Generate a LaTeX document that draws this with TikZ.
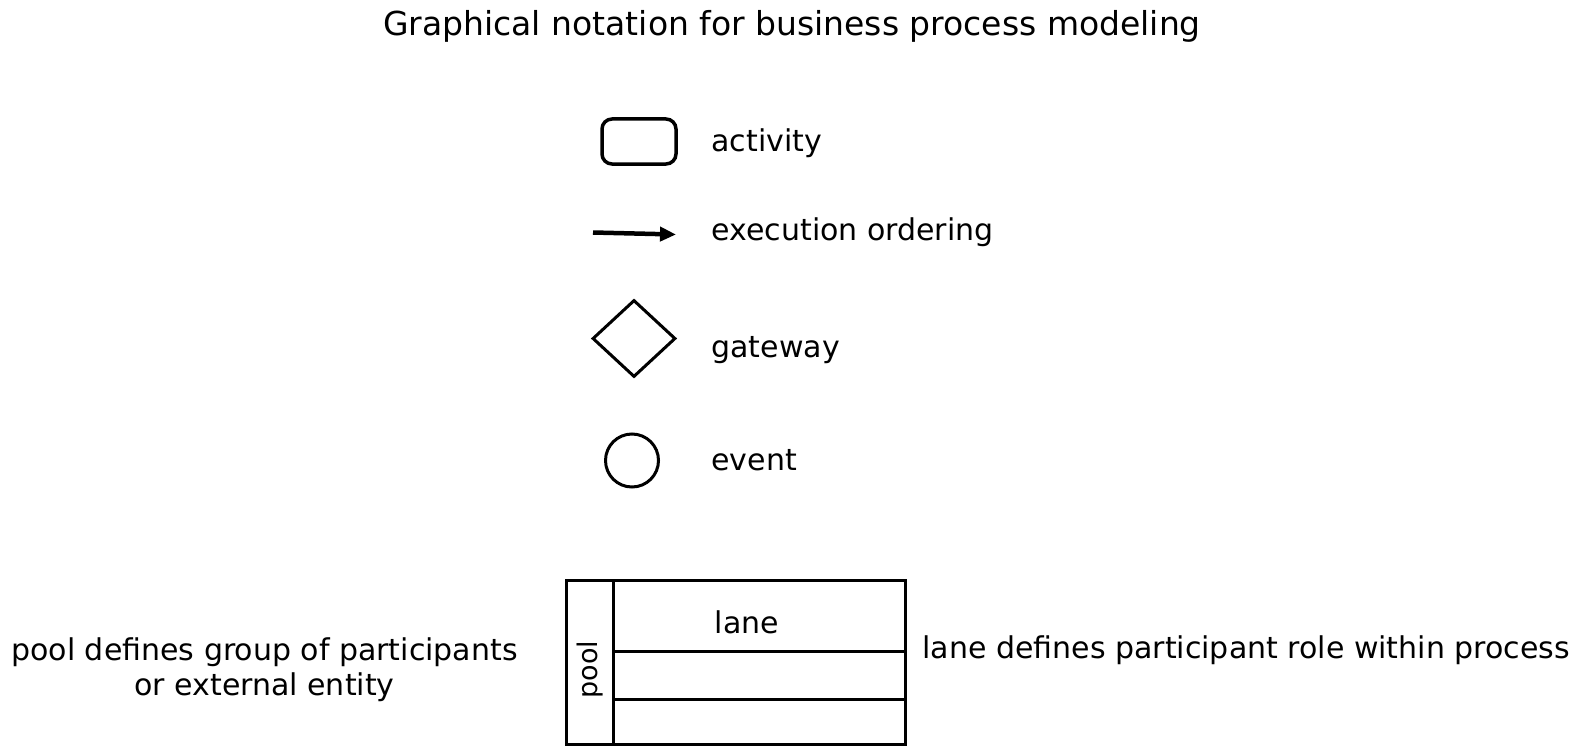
\documentclass[tikz,border=0pt]{standalone}
\usepackage{fontspec}
\setmainfont{DejaVu Sans}
\usetikzlibrary{arrows.meta,shapes.geometric,positioning}

\begin{document}
\begin{tikzpicture}
  [
   x=1pt,y=-1pt,
   line width=3pt,
   txt/.style={font=\fontsize{30}{35}\selectfont,inner sep=0pt},
   lbl/.style={txt,anchor=base west},
   heading/.style={font=\fontsize{33}{38}\selectfont,inner sep=0pt,anchor=base},
   act/.style={draw,rounded corners=10pt,line width=3.5pt,minimum width=74pt,minimum height=45pt},
   gw/.style={draw,diamond,inner sep=0pt,minimum width=83pt,minimum height=77pt},
   ev/.style={draw,circle,inner sep=0pt,minimum size=53pt},
   flow/.style={line width=4.5pt,-{Triangle[length=16pt,width=14pt]}}
  ]
   \useasboundingbox (0,0) rectangle (1574,749);

   \node[heading] (title) at (792,36) {Graphical notation for business process modeling};

   % legend
   \node[act] (act) at (639,141.5) {};
   \node[lbl] (actlbl) at (710,152) {activity};
   \coordinate (flowa) at (593,232.5);
   \coordinate (flowb) at (676,234.5);
   \draw[flow] (flowa) -- (flowb);
   \node[lbl] (flowlbl) at (710,240) {execution ordering};
   \node[gw] (gw) at (634,338.5) {};
   \node[lbl] (gwlbl) at (710,357) {gateway};
   \node[ev] (ev) at (632,460.5) {};
   \node[lbl] (evlbl) at (710,470) {event};

   % pool with lanes
   \node[draw,inner sep=0pt,minimum width=338.5pt,minimum height=164pt] (pool) at (735.75,662.5) {};
   \coordinate (hd) at (613,0);
   \draw (hd |- pool.north) -- (hd |- pool.south);
   \draw (hd |- 0,651.5) -- (pool.east |- 0,651.5);
   \draw (hd |- 0,699) -- (pool.east |- 0,699);
   \node[txt,anchor=base] (lane) at (747,633) {lane};
   \node[txt,font=\fontsize{27}{32}\selectfont,rotate=90,anchor=base] (poolname) at (597,669.5) {pool};

   \node[txt,anchor=base,align=center] (poollbl) at (264.5,695.8) {pool defines group of participants\\or external entity};
   \node[lbl] (lanelbl) at (921,658) {lane defines participant role within process};
\end{tikzpicture}
\end{document}
